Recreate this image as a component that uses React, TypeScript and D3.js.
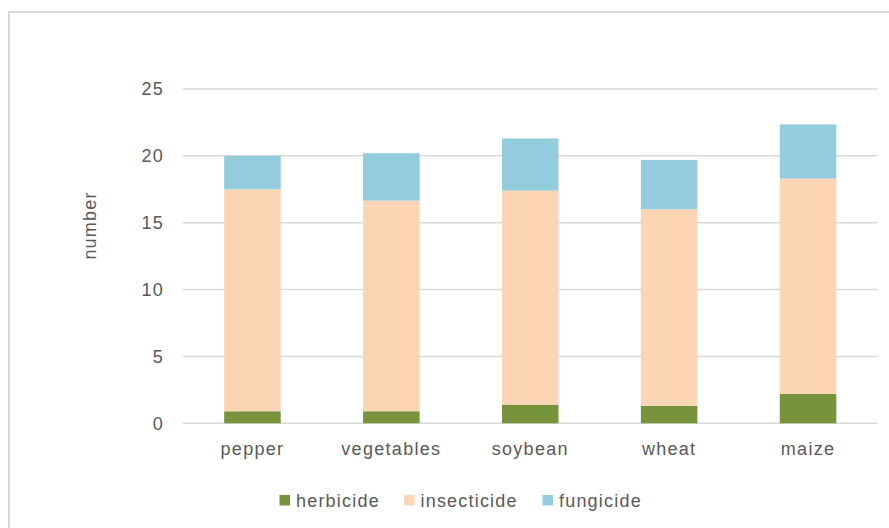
import React from "react";
import * as d3 from "d3";

const categories = ["pepper", "vegetables", "soybean", "wheat", "maize"];
const seriesKeys = ["herbicide", "insecticide", "fungicide"];
const herbicide = [0.9, 0.9, 1.4, 1.3, 2.2];
const insecticide = [16.6, 15.75, 16.0, 14.7, 16.1];
const fungicide = [2.5, 3.55, 3.9, 3.7, 4.05];
const yTicks = [0, 5, 10, 15, 20, 25];
const colors = ["#77933c", "#fcd5b5", "#93cddd"];

const W = 889;
const H = 528;
const FONT = "'Liberation Sans', Arial, sans-serif";
const TEXT = "#595959";

export default function App() {
  const rows = categories.map((c, i) => ({
    category: c,
    herbicide: herbicide[i],
    insecticide: insecticide[i],
    fungicide: fungicide[i],
  }));
  const stacked = d3.stack<any>().keys(seriesKeys)(rows);

  const x = d3
    .scaleBand<string>()
    .domain(categories)
    .range([183, 877.5])
    .paddingInner(0.593)
    .paddingOuter(0.2965);
  const y = d3.scaleLinear().domain([0, 25]).range([423.3, 89]);

  const legendX = [279.5, 404, 542.5];

  return (
    <div style={{ position: "fixed", left: 0, top: 0 }}>
      <svg width={W} height={H} style={{ display: "block", background: "#fff" }}>
        <rect x={9} y={12} width={W + 20} height={H + 20} fill="#fff" stroke="#d9d9d9" strokeWidth={2} />
        {yTicks.map((t) => (
          <g key={t}>
            <line x1={183} x2={877.5} y1={y(t)} y2={y(t)} stroke="#d9d9d9" strokeWidth={1.5} />
            <text
              x={164}
              y={y(t)}
              dy="0.35em"
              textAnchor="end"
              fontFamily={FONT}
              fontSize={18}
              letterSpacing={1.2}
              fill={TEXT}
            >
              {t}
            </text>
          </g>
        ))}
        {stacked.map((s, si) => (
          <g key={s.key} fill={colors[si]}>
            {s.map((d, i) => (
              <rect
                key={i}
                x={x(categories[i])}
                width={x.bandwidth()}
                y={y(d[1])}
                height={y(d[0]) - y(d[1])}
              />
            ))}
          </g>
        ))}
        {categories.map((c) => (
          <text
            key={c}
            x={(x(c) as number) + x.bandwidth() / 2}
            y={455}
            textAnchor="middle"
            fontFamily={FONT}
            fontSize={18}
            letterSpacing={1.3}
            fill={TEXT}
          >
            {c}
          </text>
        ))}
        <text
          transform="translate(95.5,225.5) rotate(-90)"
          textAnchor="middle"
          fontFamily={FONT}
          fontSize={18}
          letterSpacing={1.2}
          fill={TEXT}
        >
          number
        </text>
        {seriesKeys.map((k, i) => (
          <g key={k}>
            <rect x={legendX[i]} y={495} width={10.5} height={10.5} fill={colors[i]} />
            <text
              x={legendX[i] + 16.5}
              y={506.5}
              fontFamily={FONT}
              fontSize={18}
              letterSpacing={1.2}
              fill={TEXT}
            >
              {k}
            </text>
          </g>
        ))}
      </svg>
    </div>
  );
}
